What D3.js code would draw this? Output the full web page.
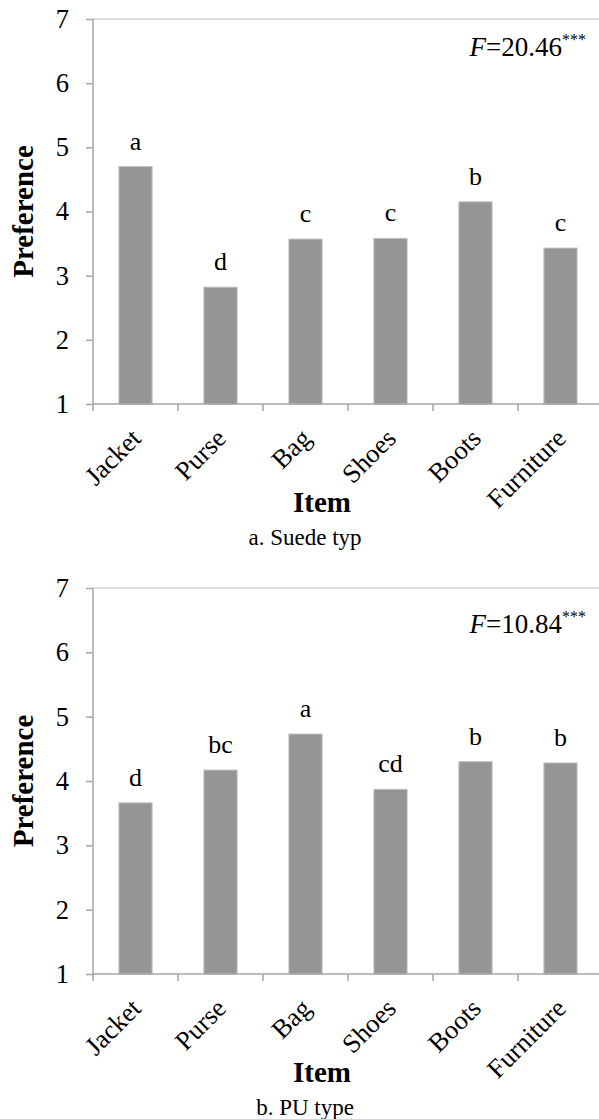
<!DOCTYPE html>
<html lang="en">
<head>
    <meta charset="UTF-8">
    <title>Preference by item</title>
    <style>
        body{
            overflow: hidden;
            margin: 0;
            background: #fff;
        }
        svg text{ font-family: 'Liberation Serif', Tinos, 'Times New Roman', 'DejaVu Serif', serif; fill: #000; }
    </style>
</head>
<body>
    <script src="https://cdnjs.cloudflare.com/ajax/libs/d3/7.8.2/d3.min.js"></script>
    <script>

const items = ['Jacket', 'Purse', 'Bag', 'Shoes', 'Boots', 'Furniture']
const yTicks = [1, 2, 3, 4, 5, 6, 7]

const suedeValues = [4.70, 2.82, 3.57, 3.58, 4.15, 3.43]
const suedeGroups = ['a', 'd', 'c', 'c', 'b', 'c']
const suedeF = '20.46'

const puValues = [3.66, 4.17, 4.73, 3.87, 4.30, 4.28]
const puGroups = ['d', 'bc', 'a', 'cd', 'b', 'b']
const puF = '10.84'

const panels = [
    {values: suedeValues, groups: suedeGroups, f: suedeF, caption: 'a. Suede typ', top: 19, bottom: 404, fY: 56},
    {values: puValues, groups: puGroups, f: puF, caption: 'b. PU type', top: 588, bottom: 974, fY: 633}
]

const W = 599, H = 1119
const left = 93, right = 603
const serif = "'Liberation Serif', Tinos, 'Times New Roman', 'DejaVu Serif', serif"

const svg = d3.select('body')
    .append('svg')
    .attr('width', W)
    .attr('height', H)
    .attr('font-family', serif)

function renderPanel(p){
    const g = svg.append('g')

    const x = d3.scaleBand().domain(items).range([left, right])
    const y = d3.scaleLinear().domain([1, 7]).range([p.bottom, p.top])
    const barW = x.bandwidth() * 0.39

    // top frame line
    g.append('line')
        .attr('x1', left).attr('x2', right)
        .attr('y1', y(7)).attr('y2', y(7))
        .attr('stroke', '#cfcfcf').attr('stroke-width', 1.5)

    // bars
    g.selectAll('rect')
        .data(items)
        .join('rect')
        .attr('x', (d) => x(d) + (x.bandwidth() - barW) / 2)
        .attr('width', barW)
        .attr('y', (d, i) => y(p.values[i]))
        .attr('height', (d, i) => y(1) - y(p.values[i]))
        .attr('fill', '#959595')
        .attr('stroke', '#bcbcbc')
        .attr('stroke-width', 1)

    // group letters
    g.selectAll('.grp')
        .data(items)
        .join('text')
        .attr('class', 'grp')
        .attr('x', (d) => x(d) + x.bandwidth() / 2)
        .attr('y', (d, i) => y(p.values[i]) - 17)
        .attr('text-anchor', 'middle')
        .attr('font-size', 26)
        .text((d, i) => p.groups[i])

    // y axis
    const ya = g.append('g')
        .attr('transform', `translate(${left},0)`)
        .call(d3.axisLeft(y).tickValues(yTicks).tickSize(7).tickPadding(17).tickFormat(d3.format('d')))
    ya.attr('font-family', serif).attr('font-size', 26.5)
    ya.select('.domain').remove()
    ya.selectAll('line').attr('stroke', '#a6a6a6').attr('stroke-width', 1.5)
    g.append('line')
        .attr('x1', left).attr('x2', left)
        .attr('y1', y(7)).attr('y2', y(1))
        .attr('stroke', '#a6a6a6').attr('stroke-width', 1.5)

    // x axis
    g.append('line')
        .attr('x1', left).attr('x2', right)
        .attr('y1', y(1)).attr('y2', y(1))
        .attr('stroke', '#a6a6a6').attr('stroke-width', 1.5)
    g.selectAll('.xt')
        .data(items.map((d) => x(d)).concat([right]))
        .join('line')
        .attr('class', 'xt')
        .attr('x1', (d) => d).attr('x2', (d) => d)
        .attr('y1', y(1)).attr('y2', y(1) + 7)
        .attr('stroke', '#a6a6a6').attr('stroke-width', 1.5)

    g.selectAll('.xl')
        .data(items)
        .join('text')
        .attr('class', 'xl')
        .attr('text-anchor', 'end')
        .attr('font-size', 26.5)
        .attr('transform', (d) => `translate(${x(d) + x.bandwidth() / 2 + 7},${y(1) + 36}) rotate(-45)`)
        .text((d) => d)

    // axis titles
    g.append('text')
        .attr('transform', `translate(33,${(y(1) + y(7)) / 2}) rotate(-90)`)
        .attr('text-anchor', 'middle')
        .attr('font-size', 29)
        .attr('font-weight', 'bold')
        .text('Preference')

    g.append('text')
        .attr('x', 322)
        .attr('y', y(1) + 108)
        .attr('text-anchor', 'middle')
        .attr('font-size', 29)
        .attr('font-weight', 'bold')
        .text('Item')

    g.append('text')
        .attr('x', 305)
        .attr('y', y(1) + 141)
        .attr('text-anchor', 'middle')
        .attr('font-size', 23)
        .text(p.caption)

    // F statistic
    const ft = g.append('text')
        .attr('x', 586)
        .attr('y', p.fY)
        .attr('text-anchor', 'end')
        .attr('font-size', 27)
    ft.append('tspan').attr('font-style', 'italic').text('F')
    ft.append('tspan').text('=' + p.f)
    ft.append('tspan').attr('font-size', 16).attr('dy', -11).text('***')
}

panels.forEach(renderPanel)

    </script>
</body>
</html>
